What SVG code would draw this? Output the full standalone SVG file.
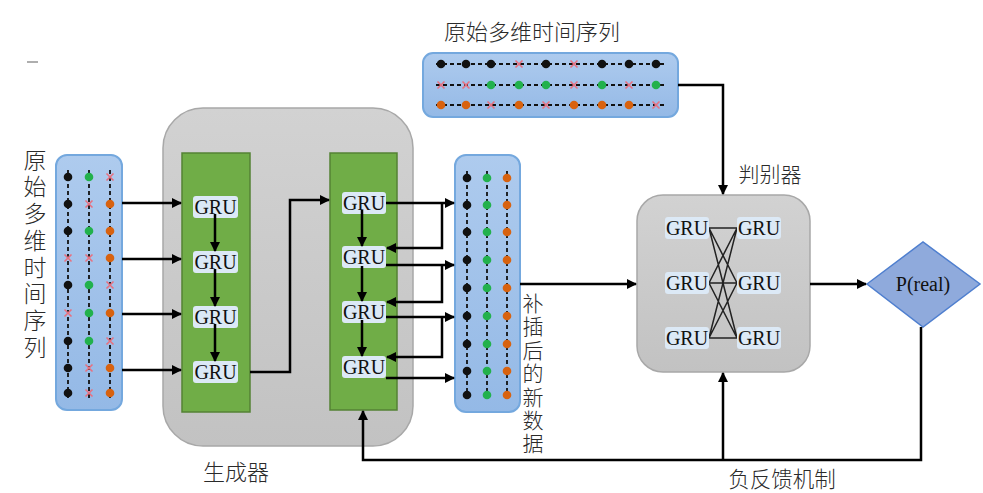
<svg xmlns="http://www.w3.org/2000/svg" width="983" height="493" viewBox="0 0 983 493">
<defs>
<marker id="ah" viewBox="0 0 10 10" refX="9" refY="5" markerWidth="4" markerHeight="4" orient="auto" markerUnits="strokeWidth">
<path d="M0,0 L10,5 L0,10 z" fill="#000"/>
</marker>
<linearGradient id="blueG" x1="0" y1="0" x2="0" y2="1">
<stop offset="0" stop-color="#aecbee"/>
<stop offset="1" stop-color="#94b9e6"/>
</linearGradient>
<linearGradient id="grayG" x1="0" y1="0" x2="0" y2="1">
<stop offset="0" stop-color="#d2d2d2"/>
<stop offset="1" stop-color="#c2c2c2"/>
</linearGradient>
<g id="xm"><path d="M-3.5,-3.5 L3.5,3.5 M-3.5,3.5 L3.5,-3.5" stroke="#e8707f" stroke-width="1.6"/></g>
<circle id="db" r="4.3" fill="#111"/>
<circle id="dg" r="4.3" fill="#22b14c"/>
<circle id="do" r="4.3" fill="#d8620f"/>
</defs>
<style>
.panel{fill:url(#blueG);stroke:#74a8de;stroke-width:2}
.box{fill:url(#grayG);stroke:#a8a8a8;stroke-width:1.5}
.green{fill:#70ad47;stroke:#548235;stroke-width:1.5}
.lbl{fill:#dce9f6}
.gru{font-family:"Liberation Serif","Times New Roman",serif;font-size:20px;fill:#111;text-anchor:middle;dominant-baseline:central}
.cn{font-family:"Noto Sans CJK SC","Noto Sans",sans-serif;font-weight:300;fill:#2a2a2a;text-anchor:middle;dominant-baseline:central}
.vt{font-family:"Noto Sans CJK SC","Noto Sans",sans-serif;font-weight:300;fill:#2a2a2a;writing-mode:vertical-rl;text-anchor:start}
.dash{stroke:#111;stroke-width:1.8;stroke-dasharray:4 3;fill:none}
.conn{stroke:#000;stroke-width:2.5;fill:none}
.arr{marker-end:url(#ah)}
.mesh{stroke:#222;stroke-width:1.5;fill:none}
</style>

<!-- stray dash top-left -->
<line x1="27" y1="62" x2="38" y2="62" stroke="#777" stroke-width="1.2"/>

<!-- Left input panel -->
<g id="input-series">
<rect class="panel" x="56" y="155" width="66" height="255" rx="11"/>
<line class="dash" x1="68" y1="170" x2="68" y2="399"/>
<line class="dash" x1="89" y1="170" x2="89" y2="399"/>
<line class="dash" x1="110" y1="170" x2="110" y2="399"/>
<use href="#db" x="68" y="177"/><use href="#dg" x="89" y="177"/><use href="#xm" x="110" y="177"/>
<use href="#db" x="68" y="204"/><use href="#xm" x="89" y="204"/><use href="#do" x="110" y="204"/>
<use href="#db" x="68" y="231"/><use href="#dg" x="89" y="231"/><use href="#do" x="110" y="231"/>
<use href="#xm" x="68" y="258"/><use href="#xm" x="89" y="258"/><use href="#do" x="110" y="258"/>
<use href="#db" x="68" y="285"/><use href="#dg" x="89" y="285"/><use href="#xm" x="110" y="285"/>
<use href="#xm" x="68" y="313"/><use href="#dg" x="89" y="313"/><use href="#do" x="110" y="313"/>
<use href="#db" x="68" y="341"/><use href="#dg" x="89" y="341"/><use href="#xm" x="110" y="341"/>
<use href="#db" x="68" y="368"/><use href="#xm" x="89" y="368"/><use href="#do" x="110" y="368"/>
<use href="#db" x="68" y="393"/><use href="#xm" x="89" y="393"/><use href="#do" x="110" y="393"/>
<text class="vt" x="35" y="148.5" style="font-size:23px;letter-spacing:3.7px">原始多维时间序列</text>
</g>

<!-- Generator -->
<g id="generator">
<rect class="box" x="163" y="108" width="250" height="338" rx="40"/>
<rect class="green" x="182" y="153" width="68" height="259"/>
<rect class="green" x="330" y="153" width="67" height="257"/>
<rect class="lbl" x="193" y="196" width="45" height="22" rx="3"/>
<rect class="lbl" x="193" y="251" width="45" height="22" rx="3"/>
<rect class="lbl" x="193" y="306" width="45" height="22" rx="3"/>
<rect class="lbl" x="193" y="361" width="45" height="22" rx="3"/>
<text class="gru" x="215.5" y="207">GRU</text>
<text class="gru" x="215.5" y="262">GRU</text>
<text class="gru" x="215.5" y="317">GRU</text>
<text class="gru" x="215.5" y="372">GRU</text>
<rect class="lbl" x="342" y="192" width="44" height="22" rx="3"/>
<rect class="lbl" x="342" y="246" width="44" height="22" rx="3"/>
<rect class="lbl" x="342" y="301" width="44" height="22" rx="3"/>
<rect class="lbl" x="342" y="356" width="44" height="22" rx="3"/>
<text class="gru" x="364" y="203">GRU</text>
<text class="gru" x="364" y="257">GRU</text>
<text class="gru" x="364" y="312">GRU</text>
<text class="gru" x="364" y="367">GRU</text>
<text class="cn" x="236" y="470" style="font-size:22px">生成器</text>
</g>

<!-- Output panel -->
<g id="imputed-series">
<rect class="panel" x="455" y="155" width="65" height="257" rx="11"/>
<line class="dash" x1="467" y1="171" x2="467" y2="401"/>
<line class="dash" x1="487" y1="171" x2="487" y2="401"/>
<line class="dash" x1="507" y1="171" x2="507" y2="401"/>
<use href="#db" x="467" y="178"/><use href="#dg" x="487" y="178"/><use href="#do" x="507" y="178"/>
<use href="#db" x="467" y="205"/><use href="#dg" x="487" y="205"/><use href="#do" x="507" y="205"/>
<use href="#db" x="467" y="232"/><use href="#dg" x="487" y="232"/><use href="#do" x="507" y="232"/>
<use href="#db" x="467" y="260"/><use href="#dg" x="487" y="260"/><use href="#do" x="507" y="260"/>
<use href="#db" x="467" y="288"/><use href="#dg" x="487" y="288"/><use href="#do" x="507" y="288"/>
<use href="#db" x="467" y="316"/><use href="#dg" x="487" y="316"/><use href="#do" x="507" y="316"/>
<use href="#db" x="467" y="344"/><use href="#dg" x="487" y="344"/><use href="#do" x="507" y="344"/>
<use href="#db" x="467" y="371"/><use href="#dg" x="487" y="371"/><use href="#do" x="507" y="371"/>
<use href="#db" x="467" y="395"/><use href="#dg" x="487" y="395"/><use href="#do" x="507" y="395"/>
<text class="vt" x="533" y="292.5" style="font-size:21px;letter-spacing:2.4px">补插后的新数据</text>
</g>

<!-- Top real series -->
<g id="real-series">
<rect class="panel" x="423" y="53" width="255" height="64" rx="10"/>
<line class="dash" x1="436" y1="64" x2="665" y2="64"/>
<line class="dash" x1="436" y1="85" x2="665" y2="85"/>
<line class="dash" x1="436" y1="105" x2="665" y2="105"/>
<use href="#db" x="441" y="64"/><use href="#db" x="466" y="64"/><use href="#db" x="491" y="64"/><use href="#xm" x="519" y="64"/><use href="#db" x="546" y="64"/><use href="#xm" x="574" y="64"/><use href="#db" x="602" y="64"/><use href="#db" x="629" y="64"/><use href="#db" x="656" y="64"/>
<use href="#xm" x="441" y="85"/><use href="#xm" x="466" y="85"/><use href="#dg" x="491" y="85"/><use href="#dg" x="519" y="85"/><use href="#dg" x="546" y="85"/><use href="#xm" x="574" y="85"/><use href="#dg" x="602" y="85"/><use href="#xm" x="629" y="85"/><use href="#dg" x="656" y="85"/>
<use href="#do" x="441" y="105"/><use href="#do" x="466" y="105"/><use href="#xm" x="491" y="105"/><use href="#do" x="519" y="105"/><use href="#xm" x="546" y="105"/><use href="#do" x="574" y="105"/><use href="#do" x="602" y="105"/><use href="#do" x="629" y="105"/><use href="#xm" x="656" y="105"/>
<text class="cn" x="532" y="30" style="font-size:22px">原始多维时间序列</text>
</g>

<!-- Discriminator -->
<g id="discriminator">
<rect class="box" x="637" y="195" width="173" height="177" rx="26"/>
<path class="mesh" d="M709,228 L737,228 M709,228 L737,283 M709,228 L737,338 M709,283 L737,228 M709,283 L737,283 M709,283 L737,338 M709,338 L737,228 M709,338 L737,283 M709,338 L737,338"/>
<rect class="lbl" x="665" y="217" width="44" height="22" rx="3"/>
<rect class="lbl" x="665" y="272" width="44" height="22" rx="3"/>
<rect class="lbl" x="665" y="327" width="44" height="22" rx="3"/>
<rect class="lbl" x="737" y="217" width="44" height="22" rx="3"/>
<rect class="lbl" x="737" y="272" width="44" height="22" rx="3"/>
<rect class="lbl" x="737" y="327" width="44" height="22" rx="3"/>
<text class="gru" x="687" y="228">GRU</text>
<text class="gru" x="687" y="283">GRU</text>
<text class="gru" x="687" y="338">GRU</text>
<text class="gru" x="759" y="228">GRU</text>
<text class="gru" x="759" y="283">GRU</text>
<text class="gru" x="759" y="338">GRU</text>
<text class="cn" x="770" y="173" style="font-size:21px">判别器</text>
</g>

<!-- Output decision -->
<g id="p-real">
<polygon points="867,284 923,242 980,284 923,327" fill="#8faadc" stroke="#4f7fcf" stroke-width="1.5"/>
<text class="gru" x="923" y="284" style="font-size:20px">P(real)</text>
</g>

<!-- Feedback label -->
<g id="feedback-label">
<text class="cn" x="782" y="477" style="font-size:21.5px">负反馈机制</text>
</g>

<!-- Connectors -->
<g id="connectors">
<line class="conn arr" x1="122" y1="203" x2="181" y2="203"/>
<line class="conn arr" x1="122" y1="259" x2="181" y2="259"/>
<line class="conn arr" x1="122" y1="314" x2="181" y2="314"/>
<line class="conn arr" x1="122" y1="370" x2="181" y2="370"/>
<line class="conn arr" x1="215" y1="214" x2="215" y2="251"/>
<line class="conn arr" x1="215" y1="269" x2="215" y2="306"/>
<line class="conn arr" x1="215" y1="324" x2="215" y2="361"/>
<path class="conn arr" d="M250,372 H290 V200 H329"/>
<line class="conn arr" x1="362" y1="210" x2="362" y2="246"/>
<line class="conn arr" x1="362" y1="266" x2="362" y2="301"/>
<line class="conn arr" x1="362" y1="320" x2="362" y2="356"/>
<path class="conn arr" d="M386,203 H454"/>
<path class="conn arr" d="M442,203 V248 H387"/>
<path class="conn arr" d="M386,265 H454"/>
<path class="conn arr" d="M442,265 V302 H387"/>
<path class="conn arr" d="M386,317 H454"/>
<path class="conn arr" d="M442,317 V357 H387"/>
<path class="conn arr" d="M386,378 H454"/>
<path class="conn arr" d="M520,284 H636"/>
<path class="conn arr" d="M678,85 H723 V194"/>
<path class="conn arr" d="M810,284 H866"/>
<path class="conn arr" d="M921,327 V460 H363 V411"/>
<path class="conn arr" d="M723,460 V373"/>
</g>
</svg>
